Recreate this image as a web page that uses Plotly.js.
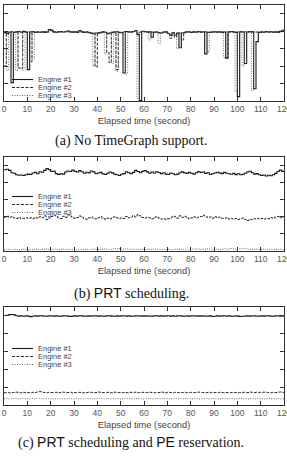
<!DOCTYPE html>
<html>
<head>
<meta charset="utf-8">
<script src="https://cdn.plot.ly/plotly-3.0.1.min.js"></script>
<style>html,body{margin:0;padding:0;background:#fff;}#chart{width:287px;height:464px;}</style>
</head>
<body>
<div id="chart"></div>
<script>
// ---- data ----
const seconds = [0,1,2,3,4,5,6,7,8,9,10,11,12,13,14,15,16,17,18,19,20,21,22,23,24,25,26,27,28,29,30,31,32,33,34,35,36,37,38,39,40,41,42,43,44,45,46,47,48,49,50,51,52,53,54,55,56,57,58,59,60,61,62,63,64,65,66,67,68,69,70,71,72,73,74,75,76,77,78,79,80,81,82,83,84,85,86,87,88,89,90,91,92,93,94,95,96,97,98,99,100,101,102,103,104,105,106,107,108,109,110,111,112,113,114,115,116,117,118,119,120];
const xTicks = [0,10,20,30,40,50,60,70,80,90,100,110,120];
const engineNames = ["Engine #1","Engine #2","Engine #3"];
const captions = ["(a) No TimeGraph support.",
  "(b) <span style=\"font-family:'Liberation Sans'\">PRT</span> scheduling.",
  "(c) <span style=\"font-family:'Liberation Sans'\">PRT</span> scheduling and <span style=\"font-family:'Liberation Sans'\">PE</span> reservation."];
const xLabel = "Elapsed time (second)";

// (a) No TimeGraph support
const noSupport1 = [39.2,38.6,39.5,10.5,39.3,39.6,39.8,39.4,39.9,39.5,
 18.0,39.6,39.6,39.3,39.5,39.4,39.6,39.3,39.5,40.9,
 40.3,39.6,39.4,39.6,39.8,39.5,39.7,40.1,39.6,39.4,
 39.6,39.3,40.4,39.6,39.3,39.5,39.2,38.8,38.5,39.0,
 38.9,39.2,39.6,39.4,38.6,39.0,39.3,39.4,39.7,39.2,
 39.2,16.0,39.8,39.6,39.6,39.8,40.4,38.0,0.3,39.9,
 39.8,39.5,39.6,36.5,39.4,39.5,39.0,39.0,39.4,39.6,
 38.7,37.5,39.1,37.8,39.0,30.5,39.0,39.2,39.6,39.5,
 39.3,39.6,39.4,39.8,39.5,39.6,27.0,39.4,39.3,39.5,
 39.7,39.4,39.6,39.3,39.5,24.5,39.6,39.8,39.5,39.3,
 2.5,39.6,39.5,21.5,39.5,39.8,39.6,7.0,34.0,39.3,
 39.6,39.4,39.8,39.5,39.7,39.4,39.6,39.3,39.9,40.5,40.0];
const noSupport2 = [20.0,39.0,39.4,39.7,39.3,39.6,19.0,18.5,39.6,39.4,
 39.5,22.5,39.8,39.4,39.6,39.3,39.5,39.7,39.4,40.2,
 40.6,39.5,39.3,39.7,39.6,39.4,39.8,39.9,39.5,39.6,
 39.4,39.6,40.2,39.5,39.4,39.6,39.3,39.0,38.7,19.5,
 39.1,39.4,39.5,39.2,28.0,22.0,39.5,39.6,18.0,39.4,
 39.4,39.6,39.7,39.5,39.4,39.6,40.2,38.5,39.5,39.7,
 39.6,39.4,39.3,39.5,39.3,39.6,39.2,39.3,39.5,39.4,
 39.0,36.0,39.3,36.5,38.6,39.2,35.0,39.4,39.5,39.6,
 39.4,39.5,39.6,39.7,39.4,39.5,39.6,39.3,39.4,39.6,
 39.5,39.6,39.4,39.5,39.6,25.0,39.5,39.7,39.6,39.4,
 39.5,39.7,39.4,39.6,39.5,39.6,39.4,39.6,39.5,39.4,
 39.5,39.6,39.6,39.4,39.6,39.5,39.4,39.7,39.6,40.2,39.8];
const noSupport3 = [39.0,17.5,39.5,39.6,39.4,17.5,39.5,39.3,17.5,39.6,
 39.4,39.6,24.0,39.5,39.6,39.4,39.5,39.6,39.3,40.5,
 40.8,39.4,39.5,39.6,39.7,39.6,39.5,40.0,39.7,39.5,
 39.5,39.4,40.3,39.7,39.5,39.4,39.4,38.9,20.0,39.0,
 39.0,39.3,39.4,27.0,38.8,39.2,21.5,39.5,17.0,39.3,
 39.3,39.4,15.5,39.7,39.5,39.7,40.3,1.5,39.6,39.8,
 39.7,39.5,35.0,39.4,39.4,39.6,33.0,39.1,39.6,39.5,
 38.8,37.8,39.0,37.6,30.0,39.1,38.9,39.3,39.5,39.6,
 39.5,39.4,39.5,39.6,39.6,39.4,39.6,28.0,39.5,39.4,
 39.6,39.5,39.4,39.6,25.0,39.4,39.5,39.6,39.4,5.5,
 39.4,39.5,20.0,39.6,39.4,39.7,6.0,39.5,39.4,39.5,
 39.7,39.5,39.6,39.5,39.6,39.5,39.6,39.4,39.8,40.3,40.0];

// (b) PRT scheduling
const prt1 = [47.5,47.8,47.2,45.8,45.5,44.6,44.3,44.5,44.2,44.6,
 45.0,44.8,45.6,46.0,45.2,46.4,46.1,47.2,48.2,47.6,
 46.5,46.8,45.3,44.8,45.1,45.0,46.2,46.8,46.5,47.3,
 46.6,46.2,47.0,46.4,45.5,46.1,45.7,46.8,46.3,45.2,
 45.6,46.0,45.1,44.8,45.5,46.2,45.7,45.0,44.6,44.2,
 44.9,45.3,46.4,45.8,45.2,46.0,47.2,46.5,45.8,46.6,
 47.1,46.3,45.5,46.2,45.6,46.4,45.9,45.3,45.8,45.0,
 44.8,45.6,45.2,44.6,45.0,45.8,46.3,45.7,45.4,46.0,
 45.5,45.0,45.8,46.5,45.9,46.2,45.4,45.8,44.8,45.2,
 45.6,46.1,45.7,45.3,46.0,45.5,45.2,44.9,45.4,44.7,
 45.2,44.6,44.9,45.5,46.2,46.7,45.8,45.0,45.3,44.6,
 44.2,44.5,43.9,44.3,44.0,44.6,45.4,46.5,47.3,46.6,47.0];
const prt2 = [19.8,20.4,19.5,20.2,19.3,19.0,19.6,18.8,19.2,19.5,
 19.0,19.4,18.9,19.7,19.2,20.0,19.5,20.6,18.4,19.3,
 20.2,21.0,20.5,19.4,19.0,20.3,19.6,21.2,20.4,19.8,
 19.1,19.6,20.5,19.8,19.0,18.6,19.4,19.9,19.2,18.8,
 19.5,20.1,19.0,18.6,19.2,18.7,19.3,20.0,19.4,18.9,
 19.5,19.0,20.2,19.4,19.8,20.7,19.9,21.3,20.5,19.6,
 19.2,19.8,19.4,18.8,19.6,20.1,19.3,18.7,19.0,18.5,
 18.9,19.3,20.4,20.0,19.2,20.6,19.7,20.3,19.5,18.8,
 19.4,20.0,19.3,19.8,20.2,21.0,20.3,19.5,19.9,19.2,
 20.1,19.4,19.8,19.2,18.9,19.5,18.7,19.1,18.6,19.0,
 18.5,18.9,19.3,18.4,17.8,18.6,18.3,18.8,19.2,18.7,
 19.0,18.6,19.2,18.9,19.5,19.1,19.8,20.2,19.4,19.9,19.6];
const prt3 = [0.8,0.6,0.9,0.7,1.0,0.8,0.6,0.9,1.1,0.8,
 0.7,1.0,0.8,1.2,0.9,0.7,1.1,0.9,1.3,1.0,
 0.8,1.1,0.9,0.7,1.0,1.2,0.9,0.8,1.1,1.0,
 0.9,0.7,1.0,0.8,1.1,0.9,0.8,1.0,1.2,0.9,
 1.1,0.8,1.0,1.3,1.0,0.9,1.2,1.4,1.1,1.5,
 1.2,1.0,1.3,1.1,0.9,1.2,1.0,1.1,0.9,1.2,
 1.0,0.8,1.1,0.9,1.2,1.0,0.8,0.9,1.1,0.8,
 1.0,0.9,0.7,1.0,1.2,0.9,1.1,0.8,1.0,0.9,
 1.1,1.3,1.0,1.2,0.9,1.1,1.0,1.3,1.1,0.9,
 1.2,1.0,0.9,1.1,1.3,1.0,1.2,1.5,1.3,1.1,
 1.4,1.2,1.6,1.3,1.1,1.0,1.2,0.9,1.1,1.0,
 0.8,1.1,0.9,1.2,1.0,0.8,1.1,0.9,1.0,0.8,0.9];

// (c) PRT scheduling and PE reservation
const prtPe1 = [50.2,50.4,50.7,50.8,50.6,50.1,49.9,50.0,49.8,50.0,
 49.9,49.6,49.8,50.0,49.9,50.1,50.0,49.8,49.9,50.0,
 50.1,49.9,50.0,49.8,49.9,50.0,50.1,49.9,49.7,49.9,
 50.0,49.9,50.1,50.0,49.8,49.9,50.0,49.9,50.1,50.0,
 49.9,50.0,49.8,49.9,50.1,50.0,49.9,49.8,50.0,49.9,
 50.0,50.1,49.9,50.0,49.9,49.8,50.0,50.1,49.9,50.0,
 49.9,50.0,49.8,49.9,50.0,50.1,49.9,50.0,49.9,50.0,
 50.1,49.9,50.0,49.8,50.0,50.1,49.9,49.8,50.0,49.9,
 50.0,50.1,49.9,50.0,49.9,50.0,49.8,49.9,50.0,49.7,
 49.8,50.0,49.9,50.0,50.1,49.9,50.0,49.9,49.8,50.0,
 49.9,49.7,49.8,49.9,50.0,49.9,50.1,50.0,49.8,49.9,
 50.0,49.9,50.1,50.0,49.9,49.8,50.0,50.1,49.9,50.0,50.0];
const prtPe2 = [6.9,7.1,6.8,7.0,6.9,7.2,7.0,6.8,7.1,6.9,
 7.0,6.8,7.1,7.0,7.3,7.5,7.2,7.0,6.9,7.1,
 7.0,6.9,7.1,6.8,7.0,7.2,6.9,7.0,7.1,6.8,
 7.0,6.9,7.1,7.0,6.8,7.0,7.2,7.1,6.9,7.0,
 7.3,7.1,7.0,6.9,7.1,6.8,7.0,7.2,6.9,7.0,
 7.1,6.9,7.0,6.8,7.1,7.0,7.2,6.9,7.0,7.1,
 6.9,7.0,7.2,7.0,6.9,7.1,7.0,7.3,7.1,6.9,
 7.2,7.0,6.9,7.1,7.0,6.8,7.0,7.1,6.9,7.0,
 7.1,7.0,6.9,7.2,7.1,7.0,6.9,7.0,7.1,6.8,
 7.0,6.9,7.1,7.0,6.9,7.0,6.8,7.0,7.1,7.0,
 6.9,7.0,7.1,7.2,7.0,7.3,7.1,7.0,7.2,7.1,
 7.0,7.2,7.1,7.0,6.9,7.1,7.0,7.2,7.3,7.1,7.0];
const prtPe3 = [3.5,3.6,3.4,3.5,3.6,3.5,3.4,3.5,3.6,3.5,
 3.5,3.4,3.6,3.5,3.7,3.6,3.5,3.4,3.5,3.6,
 3.5,3.4,3.5,3.6,3.5,3.4,3.5,3.5,3.6,3.4,
 3.5,3.6,3.5,3.4,3.5,3.6,3.7,3.5,3.4,3.5,
 3.6,3.5,3.4,3.5,3.6,3.5,3.5,3.4,3.6,3.5,
 3.4,3.5,3.6,3.5,3.4,3.5,3.6,3.5,3.5,3.4,
 3.5,3.6,3.5,3.4,3.5,3.6,3.5,3.4,3.5,3.6,
 3.5,3.4,3.5,3.6,3.5,3.5,3.4,3.6,3.5,3.4,
 3.5,3.6,3.5,3.4,3.5,3.5,3.6,3.4,3.5,3.6,
 3.5,3.4,3.5,3.6,3.5,3.4,3.5,3.6,3.5,3.4,
 3.5,3.6,3.5,3.5,3.4,3.6,3.5,3.4,3.5,3.6,
 3.5,3.4,3.5,3.6,3.5,3.4,3.5,3.6,3.5,3.5,3.5];

// ---- styling / layout ----
const W = 287, H = 464, ML = 4, MR = 3;
const px = v => (v - ML) / (W - ML - MR);
const py = v => (H - v) / H;
const styles = [
  {color:'#1a1a1a', width:1.1, dash:'solid'},
  {color:'#2a2a2a', width:1.0, dash:'3px,1.5px'},
  {color:'#6a6a6a', width:1.0, dash:'1px,1.5px'}
];
const panels = [
  {series:[noSupport1,noSupport2,noSupport3], top:5, bottom:101, legendY:[79.5,87.5,95.5], capY:141},
  {series:[prt1,prt2,prt3], top:157, bottom:251, legendY:[196.5,204.5,212.5], capY:293},
  {series:[prtPe1,prtPe2,prtPe3], top:307, bottom:405, legendY:[348.5,356.5,364.5], capY:442}
];

const traces = [];
const layout = {
  width: W, height: H,
  margin: {l: ML, r: MR, t: 0, b: 0},
  paper_bgcolor: '#fff', plot_bgcolor: '#fff',
  showlegend: false,
  font: {family: 'Liberation Sans, Arial, sans-serif', color: '#444'},
  shapes: [], annotations: []
};

panels.forEach((p, i) => {
  const sfx = i === 0 ? '' : String(i + 1);
  p.series.forEach((ys, k) => {
    traces.push({
      type: 'scatter', mode: 'lines', x: seconds, y: ys,
      name: engineNames[k], line: {shape: 'hv', color: styles[k].color, width: styles[k].width, dash: styles[k].dash},
      xaxis: 'x' + sfx, yaxis: 'y' + sfx, hoverinfo: 'skip'
    });
  });
  layout['xaxis' + sfx] = {
    domain: [0, 1], anchor: 'y' + sfx, range: [0, 120],
    tickvals: xTicks, ticktext: xTicks.map(String),
    ticklabeloverflow: 'allow',
    ticks: 'inside', ticklen: 4, tickcolor: '#333', tickwidth: 1,
    showline: true, linecolor: '#333', linewidth: 1, mirror: 'ticks',
    showgrid: false, zeroline: false,
    tickfont: {size: 8.5, color: '#555'},
    title: {text: xLabel, font: {size: 9.3, color: '#444'}, standoff: 4}
  };
  layout['yaxis' + sfx] = {
    domain: [py(p.bottom), py(p.top)], anchor: 'x' + sfx, range: [0, 55],
    dtick: 10, tick0: 0, showticklabels: false,
    ticks: 'inside', ticklen: 4, tickcolor: '#333', tickwidth: 1,
    showline: true, linecolor: '#333', linewidth: 1, mirror: 'ticks',
    showgrid: false, zeroline: false
  };
  p.legendY.forEach((ly, k) => {
    layout.shapes.push({type: 'line', xref: 'paper', yref: 'paper',
      x0: px(12), x1: px(33), y0: py(ly), y1: py(ly),
      line: {color: styles[k].color, width: styles[k].width, dash: styles[k].dash}});
    layout.annotations.push({xref: 'paper', yref: 'paper', x: px(37), y: py(ly),
      xanchor: 'left', yanchor: 'middle', text: engineNames[k], showarrow: false,
      font: {size: 7.5, color: '#444'}, borderpad: 0});
  });
  layout.annotations.push({xref: 'paper', yref: 'paper', x: px(131), y: py(p.capY),
    xanchor: 'center', yanchor: 'middle', text: captions[i], showarrow: false,
    font: {family: 'Liberation Serif, Times New Roman, serif', size: 14, color: '#111'}});
});

Plotly.newPlot('chart', traces, layout, {staticPlot: true, displayModeBar: false});
</script>
</body>
</html>
